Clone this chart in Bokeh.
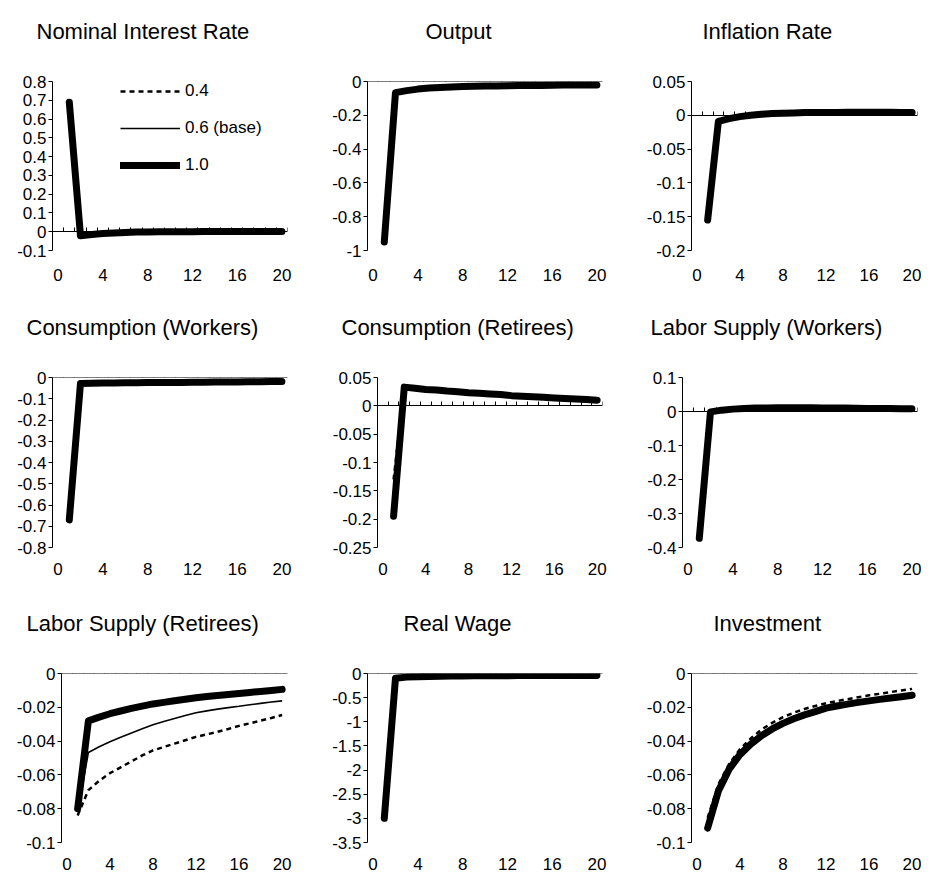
from bokeh.plotting import figure
from bokeh.layouts import column, row
from bokeh.models import (Range1d, FixedTicker, LinearAxis, Title, Legend,
                          LegendItem, CustomJSTickFormatter)
from bokeh.embed import file_html
from bokeh.resources import INLINE

# ---------------- data ----------------
periods = list(range(1, 21))
x_label_ticks = [0, 4, 8, 12, 16, 20]
category_bounds = [i - 0.5 for i in range(22)]
series_labels = ["0.4", "0.6 (base)", "1.0"]

titles = ["Nominal Interest Rate", "Output", "Inflation Rate",
          "Consumption (Workers)", "Consumption (Retirees)", "Labor Supply (Workers)",
          "Labor Supply (Retirees)", "Real Wage", "Investment"]

y_ticks = [
    [-0.1, 0, 0.1, 0.2, 0.3, 0.4, 0.5, 0.6, 0.7, 0.8],
    [-1, -0.8, -0.6, -0.4, -0.2, 0],
    [-0.2, -0.15, -0.1, -0.05, 0, 0.05],
    [-0.8, -0.7, -0.6, -0.5, -0.4, -0.3, -0.2, -0.1, 0],
    [-0.25, -0.2, -0.15, -0.1, -0.05, 0, 0.05],
    [-0.4, -0.3, -0.2, -0.1, 0, 0.1],
    [-0.1, -0.08, -0.06, -0.04, -0.02, 0],
    [-3.5, -3, -2.5, -2, -1.5, -1, -0.5, 0],
    [-0.1, -0.08, -0.06, -0.04, -0.02, 0],
]

# Nominal interest rate
rate_04 = [0.68, -0.019, -0.014, -0.010, -0.007, -0.004, -0.002, -0.001, 0.0, 0.0, 0.0005, 0.0005, 0.001, 0.001, 0.001, 0.001, 0.001, 0.001, 0.001, 0.001]
rate_06 = [0.685, -0.020, -0.015, -0.010, -0.007, -0.004, -0.002, -0.001, 0.0, 0.0, 0.0005, 0.0005, 0.001, 0.001, 0.001, 0.001, 0.001, 0.001, 0.001, 0.001]
rate_10 = [0.69, -0.021, -0.015, -0.010, -0.007, -0.004, -0.002, -0.001, 0.0, 0.0, 0.0005, 0.0005, 0.001, 0.001, 0.001, 0.001, 0.001, 0.001, 0.001, 0.001]
# Output
output_04 = [-0.94, -0.065, -0.053, -0.045, -0.039, -0.035, -0.032, -0.030, -0.028, -0.027, -0.026, -0.025, -0.024, -0.023, -0.023, -0.022, -0.021, -0.021, -0.020, -0.020]
output_06 = [-0.945, -0.066, -0.054, -0.045, -0.039, -0.035, -0.032, -0.030, -0.028, -0.027, -0.026, -0.025, -0.024, -0.023, -0.023, -0.022, -0.021, -0.021, -0.020, -0.020]
output_10 = [-0.95, -0.066, -0.054, -0.045, -0.039, -0.035, -0.032, -0.030, -0.028, -0.027, -0.026, -0.025, -0.024, -0.023, -0.023, -0.022, -0.021, -0.021, -0.020, -0.020]
# Inflation rate
infl_04 = [-0.153, -0.009, -0.005, -0.002, 0.0, 0.0015, 0.0025, 0.003, 0.0035, 0.004, 0.004, 0.0042, 0.0043, 0.0044, 0.0044, 0.0044, 0.0044, 0.0044, 0.0043, 0.0043]
infl_06 = [-0.154, -0.009, -0.005, -0.002, 0.0, 0.0015, 0.0025, 0.003, 0.0035, 0.004, 0.004, 0.0042, 0.0043, 0.0044, 0.0044, 0.0044, 0.0044, 0.0044, 0.0043, 0.0043]
infl_10 = [-0.155, -0.009, -0.005, -0.002, 0.0, 0.0015, 0.0025, 0.003, 0.0035, 0.004, 0.004, 0.0042, 0.0043, 0.0044, 0.0044, 0.0044, 0.0044, 0.0044, 0.0043, 0.0043]
# Consumption (workers)
cw_04 = [-0.66, -0.028, -0.027, -0.026, -0.026, -0.025, -0.025, -0.024, -0.024, -0.023, -0.023, -0.022, -0.022, -0.021, -0.021, -0.021, -0.020, -0.020, -0.019, -0.019]
cw_06 = [-0.665, -0.028, -0.027, -0.026, -0.026, -0.025, -0.025, -0.024, -0.024, -0.023, -0.023, -0.022, -0.022, -0.021, -0.021, -0.021, -0.020, -0.020, -0.019, -0.019]
cw_10 = [-0.67, -0.028, -0.027, -0.026, -0.026, -0.025, -0.025, -0.024, -0.024, -0.023, -0.023, -0.022, -0.022, -0.021, -0.021, -0.021, -0.020, -0.020, -0.019, -0.019]
# Consumption (retirees)
cr_04 = [-0.13, 0.033, 0.031, 0.029, 0.028, 0.026, 0.025, 0.023, 0.022, 0.021, 0.020, 0.018, 0.017, 0.016, 0.015, 0.014, 0.013, 0.012, 0.011, 0.010]
cr_06 = [-0.175, 0.033, 0.031, 0.029, 0.028, 0.026, 0.025, 0.023, 0.022, 0.021, 0.020, 0.018, 0.017, 0.016, 0.015, 0.014, 0.013, 0.012, 0.011, 0.010]
cr_10 = [-0.195, 0.033, 0.031, 0.029, 0.028, 0.026, 0.025, 0.023, 0.022, 0.021, 0.020, 0.018, 0.017, 0.016, 0.015, 0.014, 0.013, 0.012, 0.011, 0.010]
# Labor supply (workers)
lw_04 = [-0.365, -0.001, 0.004, 0.007, 0.009, 0.010, 0.0105, 0.011, 0.011, 0.011, 0.011, 0.0105, 0.010, 0.010, 0.0095, 0.009, 0.009, 0.0085, 0.008, 0.008]
lw_06 = [-0.37, -0.001, 0.004, 0.007, 0.009, 0.010, 0.0105, 0.011, 0.011, 0.011, 0.011, 0.0105, 0.010, 0.010, 0.0095, 0.009, 0.009, 0.0085, 0.008, 0.008]
lw_10 = [-0.373, -0.001, 0.004, 0.007, 0.009, 0.010, 0.0105, 0.011, 0.011, 0.011, 0.011, 0.0105, 0.010, 0.010, 0.0095, 0.009, 0.009, 0.0085, 0.008, 0.008]
# Labor supply (retirees)
lr_04 = [-0.084, -0.069, -0.0635, -0.059, -0.0555, -0.052, -0.0485, -0.0455, -0.0435, -0.0415, -0.0395, -0.0375, -0.036, -0.0345, -0.0328, -0.031, -0.0295, -0.0279, -0.0263, -0.0246]
lr_06 = [-0.082, -0.0467, -0.0433, -0.0404, -0.0377, -0.0352, -0.0327, -0.0303, -0.0284, -0.0266, -0.0248, -0.0232, -0.0221, -0.0211, -0.0202, -0.0194, -0.0185, -0.0177, -0.0169, -0.0162]
lr_10 = [-0.080, -0.028, -0.0258, -0.0238, -0.0222, -0.0206, -0.0193, -0.018, -0.0171, -0.0161, -0.0152, -0.0143, -0.0136, -0.0130, -0.0124, -0.0118, -0.0112, -0.0106, -0.0100, -0.0094]
# Real wage
wage_04 = [-2.98, -0.10, -0.075, -0.065, -0.06, -0.056, -0.053, -0.05, -0.048, -0.047, -0.046, -0.045, -0.044, -0.043, -0.042, -0.042, -0.041, -0.040, -0.040, -0.039]
wage_06 = [-2.99, -0.10, -0.075, -0.065, -0.06, -0.056, -0.053, -0.05, -0.048, -0.047, -0.046, -0.045, -0.044, -0.043, -0.042, -0.042, -0.041, -0.040, -0.040, -0.039]
wage_10 = [-3.0, -0.10, -0.075, -0.065, -0.06, -0.056, -0.053, -0.05, -0.048, -0.047, -0.046, -0.045, -0.044, -0.043, -0.042, -0.042, -0.041, -0.040, -0.040, -0.039]
# Investment
inv_04 = [-0.0855, -0.0655, -0.0535, -0.0448, -0.0385, -0.0332, -0.0292, -0.0258, -0.0232, -0.021, -0.0192, -0.0176, -0.0163, -0.0152, -0.0140, -0.0129, -0.0120, -0.0110, -0.0100, -0.0091]
inv_06 = [-0.0905, -0.0685, -0.0557, -0.0471, -0.041, -0.036, -0.0321, -0.0289, -0.0262, -0.024, -0.0221, -0.0201, -0.0188, -0.0177, -0.0167, -0.0158, -0.015, -0.0142, -0.0134, -0.0127]
inv_10 = [-0.0915, -0.0695, -0.0566, -0.048, -0.0418, -0.0368, -0.0328, -0.0295, -0.0268, -0.0245, -0.0226, -0.0205, -0.0192, -0.0181, -0.0171, -0.0162, -0.0153, -0.0145, -0.0137, -0.0129]

panel_series = [
    (rate_04, rate_06, rate_10), (output_04, output_06, output_10), (infl_04, infl_06, infl_10),
    (cw_04, cw_06, cw_10), (cr_04, cr_06, cr_10), (lw_04, lw_06, lw_10),
    (lr_04, lr_06, lr_10), (wage_04, wage_06, wage_10), (inv_04, inv_06, inv_10),
]

# ---------------- layout / style ----------------
FONT = "Liberation Sans"
col_widths = [305, 305, 311]
row_heights = [289, 293, 295]
frame_heights = [169, 170, 169]
top_borders = [81, 88, 91]
x_label_standoffs = [18, 15, 15]
left_borders = [[52, 62, 81], [52, 72, 72], [61, 62, 81]]
right_borders = [18, 8, 4]
title_offsets = [[-16, 58, 11], [-26, -36, -32], [-35, 36, 22]]
line_styles = [dict(line_width=2.5, line_dash="5 4"),
               dict(line_width=1.6),
               dict(line_width=7, line_cap="round", line_join="round")]

tick_fmt = CustomJSTickFormatter(code="""
    if (Math.abs(tick) < 1e-12) return '0';
    return String(Number(tick.toFixed(4)));
""")

rows = []
for r in range(3):
    row_figs = []
    for c in range(3):
        k = r * 3 + c
        yt = y_ticks[k]
        w, h = col_widths[c], row_heights[r]
        p = figure(width=w, height=h, output_backend="svg", toolbar_location=None, tools="",
                   x_range=Range1d(-0.5, 20.5), y_range=Range1d(min(yt), max(yt)),
                   min_border_left=left_borders[r][c], min_border_right=right_borders[c],
                   min_border_top=top_borders[r],
                   min_border_bottom=h - top_borders[r] - frame_heights[r],
                   x_axis_location=None, y_axis_location=None, title=None,
                   frame_align=False)
        p.outline_line_color = None
        p.background_fill_color = "white"
        p.border_fill_color = "white"
        p.xgrid.visible = False
        p.ygrid.visible = False

        # title: a trailing blank line keeps it lifted above the plot area
        t = Title(text=titles[k] + "\n ", align="left", offset=title_offsets[r][c], standoff=0,
                  text_font=FONT, text_font_size="22px", text_font_style="normal",
                  text_color="black", text_line_height=1.5)
        p.add_layout(t, "above")

        # left value axis
        ya = LinearAxis(ticker=FixedTicker(ticks=yt), formatter=tick_fmt)
        ya.major_tick_out = 4
        ya.major_tick_in = 0
        ya.minor_tick_line_color = None
        ya.major_label_standoff = 2
        ya.major_label_text_font = FONT
        ya.major_label_text_font_size = "17px"
        ya.major_label_text_color = "black"
        ya.axis_line_color = "black"
        ya.major_tick_line_color = "black"
        p.add_layout(ya, "left")

        # bottom category labels (no line, no ticks)
        xa = LinearAxis(ticker=FixedTicker(ticks=x_label_ticks))
        xa.axis_line_color = None
        xa.major_tick_line_color = None
        xa.minor_tick_line_color = None
        xa.major_tick_out = 0
        xa.major_tick_in = 0
        xa.major_label_standoff = x_label_standoffs[r]
        xa.major_label_text_font = FONT
        xa.major_label_text_font_size = "17px"
        xa.major_label_text_color = "black"
        p.add_layout(xa, "below")

        # horizontal axis crossing at zero with category tick marks
        za = LinearAxis(fixed_location=0, ticker=FixedTicker(ticks=category_bounds))
        za.axis_line_color = "black"
        za.major_tick_line_color = "black"
        za.minor_tick_line_color = None
        za.major_tick_in = 4
        za.major_tick_out = 0
        za.major_label_text_color = None
        p.add_layout(za, "below")

        rends = []
        for vals, st in zip(panel_series[k], line_styles):
            rends.append(p.line(periods, vals, line_color="black", **st))

        if k == 0:
            legend = Legend(items=[LegendItem(label=lab, renderers=[rr])
                                   for lab, rr in zip(series_labels, rends)],
                            location=(68, 75))
            legend.glyph_width = 60
            legend.glyph_height = 20
            legend.label_height = 20
            legend.label_standoff = 5
            legend.spacing = 17
            legend.padding = 0
            legend.margin = 0
            legend.background_fill_alpha = 0
            legend.border_line_color = None
            legend.label_text_font = FONT
            legend.label_text_font_size = "17px"
            legend.label_text_color = "black"
            p.add_layout(legend)
        row_figs.append(p)
    rows.append(row(*row_figs))

layout = column(*rows)
open("out.html", "w").write(file_html(layout, INLINE))
